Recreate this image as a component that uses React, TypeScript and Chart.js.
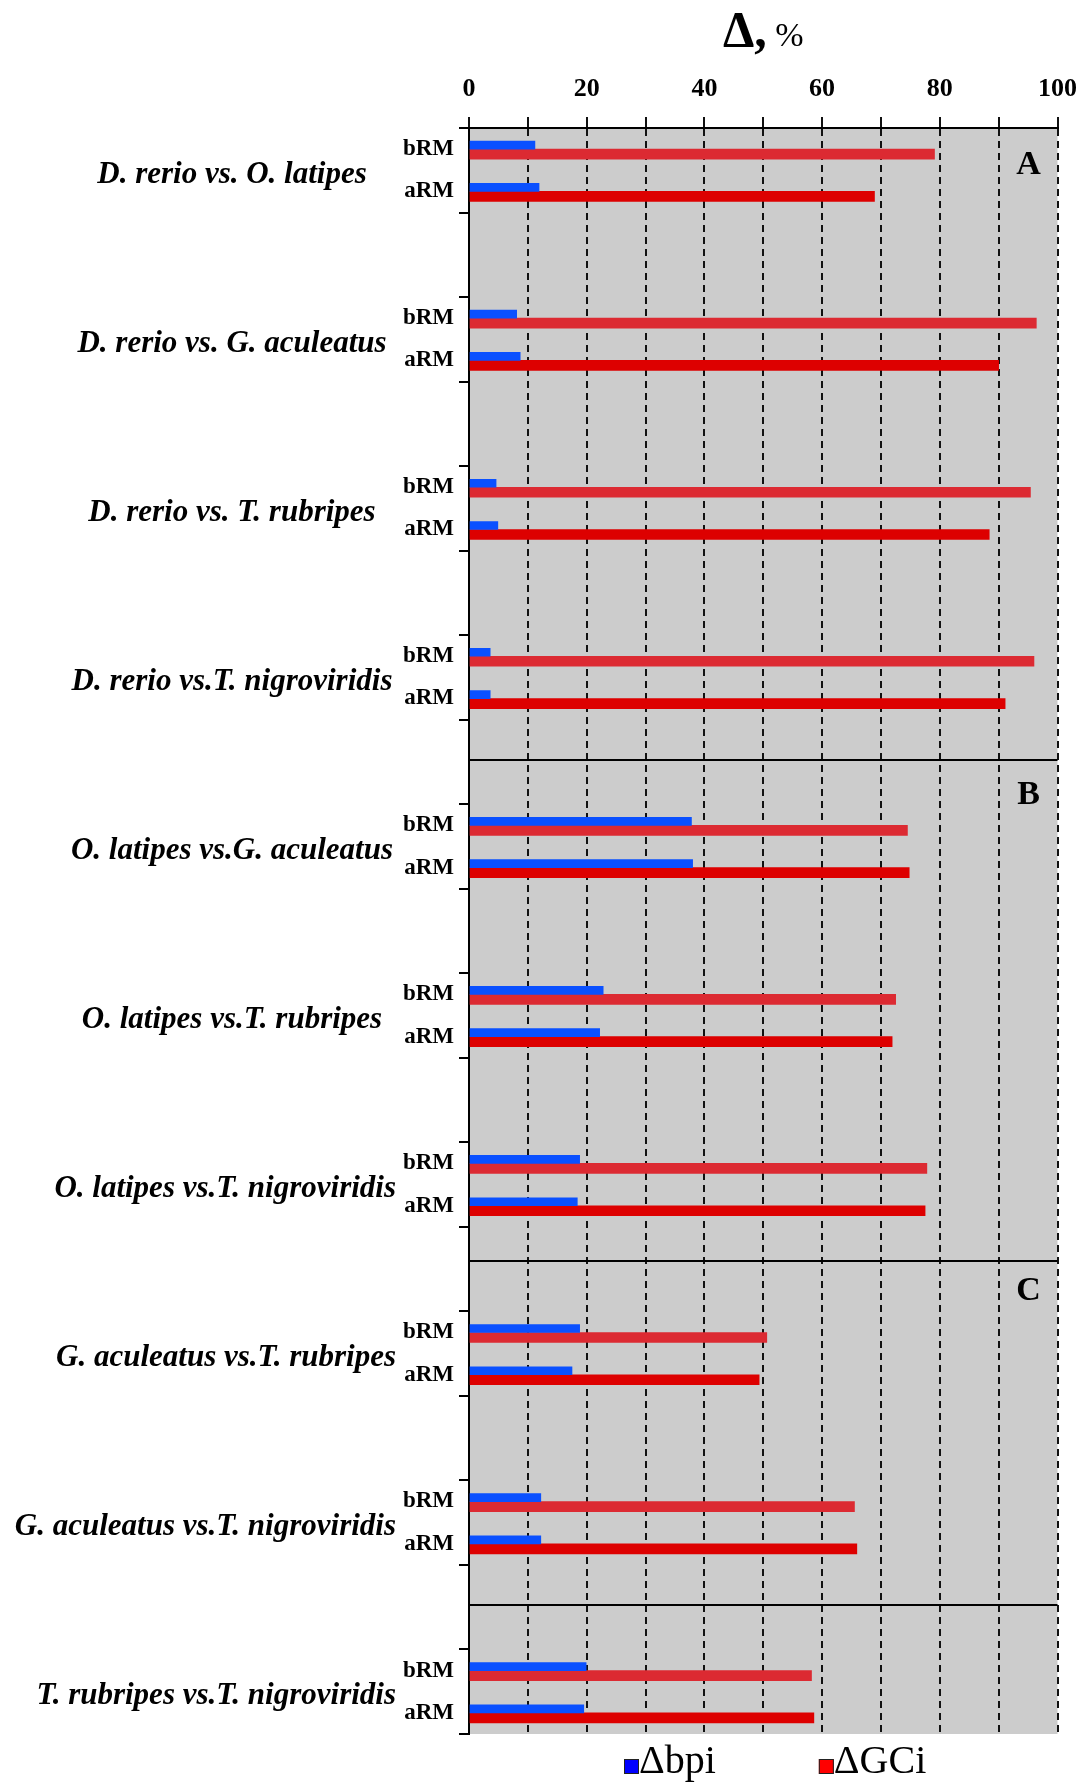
import React, { useEffect, useRef } from 'react';
import { Chart, registerables } from 'chart.js';

Chart.register(...registerables);

// ---------- data ----------
const comparisons = [
  'D. rerio vs. O. latipes',
  'D. rerio vs. G. aculeatus',
  'D. rerio vs. T. rubripes',
  'D. rerio vs.T. nigroviridis',
  'O. latipes vs.G. aculeatus',
  'O. latipes vs.T. rubripes',
  'O. latipes vs.T. nigroviridis',
  'G. aculeatus vs.T. rubripes',
  'G. aculeatus vs.T. nigroviridis',
  'T. rubripes vs.T. nigroviridis',
];
const subLabels = ['bRM', 'aRM'];
const seriesNames = ['\u0394bpi', '\u0394GCi'];

const bpiBRM = [11.2, 8.1, 4.6, 3.6, 37.8, 22.8, 18.8, 18.8, 12.2, 19.9];
const bpiARM = [11.9, 8.7, 4.9, 3.6, 38.0, 22.2, 18.4, 17.5, 12.2, 19.5];
const gciBRM = [79.1, 96.4, 95.4, 96.0, 74.5, 72.5, 77.8, 50.6, 65.5, 58.2];
const gciARM = [68.9, 90.0, 88.4, 91.1, 74.8, 71.9, 77.5, 49.3, 65.9, 58.6];

const xTickLabels = [0, 20, 40, 60, 80, 100];
const panelLetters = ['A', 'B', 'C'];
// layout annotations, in row-boundary units
const panelLetterRows = [0.875, 15.79, 27.53];
const separatorRows = [14.95, 26.8, 34.95];

const SERIF = '"Liberation Serif", "Times New Roman", serif';

export default function App() {
  const ref = useRef<HTMLCanvasElement>(null);

  useEffect(() => {
    const canvas = ref.current;
    if (!canvas) return;

    // rows: bRM, aRM, blank, blank per comparison (the last one has no trailing blanks)
    const rowLabels: string[] = [];
    const rowKind: string[] = [];
    const bpiData: (number | null)[] = [];
    const gciData: (number | null)[] = [];
    comparisons.forEach((_, g) => {
      rowLabels.push(subLabels[0]); rowKind.push('b');
      bpiData.push(bpiBRM[g]); gciData.push(gciBRM[g]);
      rowLabels.push(subLabels[1]); rowKind.push('a');
      bpiData.push(bpiARM[g]); gciData.push(gciARM[g]);
      if (g < comparisons.length - 1) {
        for (let k = 0; k < 2; k++) {
          rowLabels.push(''); rowKind.push('');
          bpiData.push(null); gciData.push(null);
        }
      }
    });

    const decor = {
      id: 'decor',
      beforeDraw(chart: any) {
        const { ctx, chartArea: a } = chart;
        ctx.save();
        ctx.fillStyle = '#cccccc';
        ctx.fillRect(a.left, a.top, a.right - a.left, a.bottom - a.top);
        ctx.restore();
      },
      afterDraw(chart: any) {
        const { ctx, chartArea: a } = chart;
        const ys = chart.scales.y;
        const bpx = (b: number) => ys.getPixelForValue(b - 0.5);
        ctx.save();

        // panel separators
        ctx.strokeStyle = '#000';
        ctx.lineWidth = 2;
        separatorRows.forEach((b) => {
          const y = Math.round(bpx(b));
          ctx.beginPath();
          ctx.moveTo(a.left, y);
          ctx.lineTo(a.right, y);
          ctx.stroke();
        });

        // panel letters
        ctx.fillStyle = '#000';
        ctx.font = `bold 34px ${SERIF}`;
        ctx.textAlign = 'center';
        ctx.textBaseline = 'middle';
        panelLetters.forEach((L, i) => {
          ctx.fillText(L, a.right - 29, bpx(panelLetterRows[i]));
        });

        // comparison (outer) labels
        ctx.font = `italic bold 31px ${SERIF}`;
        ctx.textAlign = 'right';
        ctx.textBaseline = 'alphabetic';
        comparisons.forEach((name, g) => {
          const yb = bpx(4 * g + 1) + 12.5;
          const w = ctx.measureText(name).width;
          const right = Math.min(232 + w / 2, 396);
          ctx.fillText(name, right, yb);
        });

        // title  "Δ, %"
        const cx = (a.left + a.right) / 2;
        ctx.textAlign = 'left';
        ctx.font = `bold 50px ${SERIF}`;
        const t1 = '\u0394,';
        const w1 = ctx.measureText(t1).width;
        ctx.font = `34px ${SERIF}`;
        const t2 = ' %';
        const w2 = ctx.measureText(t2).width;
        const tx = cx - (w1 + w2) / 2;
        ctx.font = `bold 50px ${SERIF}`;
        ctx.fillText(t1, tx, 46);
        ctx.font = `34px ${SERIF}`;
        ctx.fillText(t2, tx + w1, 46);

        // legend
        const legendColors = ['#0000ff', '#ff0000'];
        ctx.font = `40px ${SERIF}`;
        let lx = a.left + 155;
        const ly = 1773;
        chart.data.datasets.forEach((ds: any, i: number) => {
          ctx.fillStyle = legendColors[i];
          ctx.fillRect(lx, ly - 14, 15, 15);
          ctx.strokeStyle = '#222';
          ctx.lineWidth = 1;
          ctx.strokeRect(lx + 0.5, ly - 13.5, 14, 14);
          ctx.fillStyle = '#000';
          ctx.fillText(ds.label, lx + 15, ly);
          lx += 15 + ctx.measureText(ds.label).width + 103;
        });

        ctx.restore();
      },
    };

    const chart = new Chart(canvas, {
      type: 'bar',
      data: {
        labels: rowLabels,
        datasets: [
          {
            label: seriesNames[0],
            data: bpiData,
            backgroundColor: '#0a50ff',
            barThickness: 8,
          },
          {
            label: seriesNames[1],
            data: gciData,
            backgroundColor: (c: any) => (rowKind[c.dataIndex] === 'b' ? '#dc2a32' : '#dd0000'),
            barThickness: 10,
          },
        ],
      },
      options: {
        indexAxis: 'y',
        responsive: false,
        animation: false,
        devicePixelRatio: 1,
        layout: { padding: { left: 0, right: 18, top: 0, bottom: 53 } },
        plugins: {
          legend: { display: false },
          tooltip: { enabled: false },
          title: { display: false },
        },
        scales: {
          x: {
            type: 'linear',
            position: 'top',
            min: 0,
            max: 100,
            z: 1,
            afterFit: (s: any) => { s.height = 128; },
            ticks: {
              stepSize: 10,
              autoSkip: false,
              maxRotation: 0,
              padding: 0,
              color: '#000',
              font: { family: SERIF, size: 26, weight: 'bold', lineHeight: 2.1 },
              callback: (v: any) => (xTickLabels.includes(Number(v)) ? String(v) : ''),
            },
            grid: {
              color: '#111',
              lineWidth: 2,
              tickLength: 11,
              drawOnChartArea: true,
              drawTicks: true,
            },
            border: { display: true, color: '#000', width: 2, dash: [7, 5] },
          },
          y: {
            type: 'category',
            offset: true,
            afterFit: (s: any) => { s.width = 469; },
            ticks: {
              autoSkip: false,
              padding: 5,
              color: '#000',
              font: { family: SERIF, size: 23, weight: 'bold' },
            },
            grid: {
              offset: true,
              drawOnChartArea: false,
              drawTicks: true,
              tickLength: 10,
              lineWidth: 2,
              color: (c: any) =>
                c.index === undefined || c.index % 2 === 0 ? '#000' : 'rgba(0,0,0,0)',
            },
            border: { display: true, color: '#000', width: 2 },
          },
        },
      } as any,
      plugins: [decor],
    });

    return () => chart.destroy();
  }, []);

  return (
    <div style={{ position: 'absolute', left: 0, top: 0, width: 1077, height: 1787 }}>
      <canvas
        ref={ref}
        width={1077}
        height={1787}
        style={{ display: 'block', width: 1077, height: 1787 }}
      />
    </div>
  );
}
